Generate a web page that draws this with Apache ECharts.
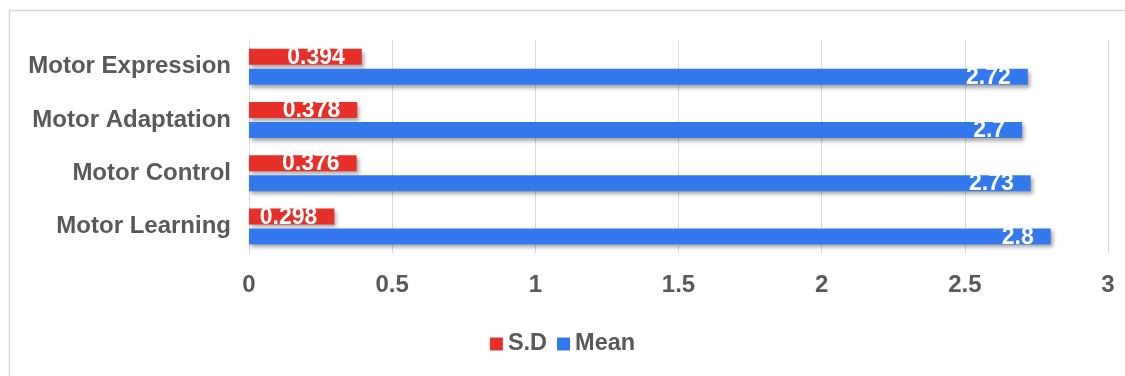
<!DOCTYPE html>
<html>
<head>
<meta charset="utf-8">
<script src="https://cdn.jsdelivr.net/npm/echarts@6/dist/echarts.min.js"></script>
<style>
  html, body { margin: 0; padding: 0; background: #ffffff; }
  #chart { width: 1125px; height: 376px; }
</style>
</head>
<body>
<div id="chart"></div>
<script>
// Categories listed bottom to top (category axis grows upward)
const categories = ['Motor Learning', 'Motor Control', 'Motor Adaptation', 'Motor Expression'];
const sdValues = [0.298, 0.376, 0.378, 0.394];
const meanValues = [2.8, 2.73, 2.7, 2.72];
const legendNames = ['S.D', 'Mean'];

const FONT = '"Liberation Sans", Arial, sans-serif';
const TEXT_GRAY = '#595959';

const chart = echarts.init(document.getElementById('chart'), null, { renderer: 'canvas' });

const barShadow = {
  shadowColor: 'rgba(0,0,0,0.35)',
  shadowBlur: 4,
  shadowOffsetX: 2,
  shadowOffsetY: 3
};

const valueLabel = {
  show: true,
  position: 'insideRight',
  distance: 17,
  offset: [0, 1],
  color: '#ffffff',
  fontFamily: FONT,
  fontWeight: 'bold',
  fontSize: 23
};

chart.setOption({
  animation: false,
  backgroundColor: '#ffffff',
  graphic: [{
    type: 'rect',
    shape: { x: 9.5, y: 10.5, width: 1300, height: 500 },
    style: { fill: 'none', stroke: '#d9d9d9', lineWidth: 1.5 },
    silent: true,
    z: -10
  }],
  grid: { left: 249, right: 17, top: 40, bottom: 123 },
  legend: {
    data: legendNames,
    left: 'center',
    top: 327,
    itemWidth: 13,
    itemHeight: 13,
    itemGap: 10,
    icon: 'rect',
    textStyle: { color: TEXT_GRAY, fontFamily: FONT, fontWeight: 'bold', fontSize: 23.5 }
  },
  xAxis: {
    type: 'value',
    min: 0,
    max: 3,
    interval: 0.5,
    axisLine: { show: false },
    axisTick: { show: false },
    splitLine: { show: true, lineStyle: { color: '#d9d9d9', width: 1 } },
    axisLabel: {
      color: TEXT_GRAY, fontFamily: FONT, fontWeight: 'bold', fontSize: 24, margin: 20
    }
  },
  yAxis: {
    type: 'category',
    data: categories,
    axisLine: { show: true, lineStyle: { color: '#d9d9d9', width: 1 } },
    axisTick: { show: false },
    axisLabel: {
      color: TEXT_GRAY, fontFamily: FONT, fontWeight: 'bold', fontSize: 24, margin: 18,
      padding: [5, 0, 0, 0]
    }
  },
  series: [
    {
      name: 'S.D',
      type: 'bar',
      data: sdValues,
      barWidth: 16,
      barGap: '25%',
      itemStyle: Object.assign({ color: '#e8302a' }, barShadow),
      label: valueLabel
    },
    {
      name: 'Mean',
      type: 'bar',
      data: meanValues,
      barWidth: 16,
      barGap: '25%',
      itemStyle: Object.assign({ color: '#3478ee' }, barShadow),
      label: valueLabel
    }
  ]
});
</script>
</body>
</html>
